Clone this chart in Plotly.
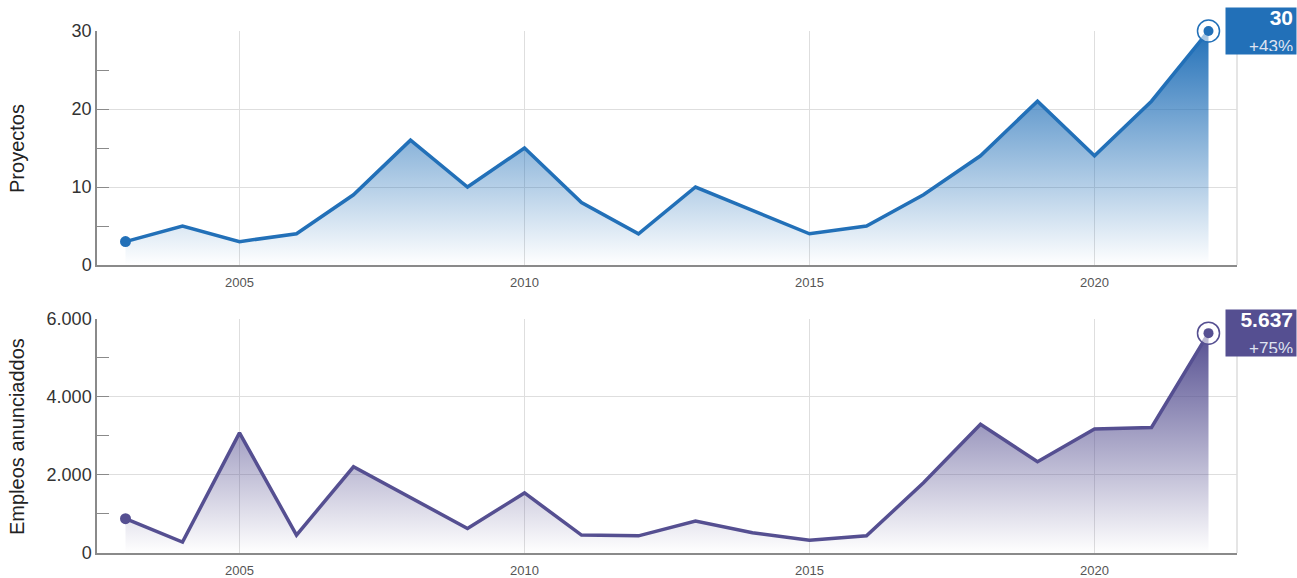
import plotly.graph_objects as go
from plotly.subplots import make_subplots

years = list(range(2003, 2023))
proyectos = [3, 5, 3, 4, 9, 16, 10, 15, 8, 4, 10, 7, 4, 5, 9, 14, 21, 14, 21, 30]
empleos = [880, 280, 3080, 460, 2210, 1430, 630, 1540, 460, 440, 820, 520, 330, 440,
           1800, 3300, 2340, 3180, 3220, 5637]
x_ticks = [2005, 2010, 2015, 2020]
top_label = ["30", "+43%"]
bottom_label = ["5.637", "+75%"]

BLUE = "#2270b8"
PURPLE = "#554f91"
FONT = "Liberation Sans, Arial, sans-serif"

fig = make_subplots(rows=2, cols=1, vertical_spacing=0.1034)


def rgba(hexc, a):
    h = hexc.lstrip("#")
    r, g, b = int(h[0:2], 16), int(h[2:4], 16), int(h[4:6], 16)
    return f"rgba({r},{g},{b},{a})"


for row, vals, col in [(1, proyectos, BLUE), (2, empleos, PURPLE)]:
    fig.add_trace(go.Scatter(
        x=years, y=vals, mode="lines", line=dict(color=col, width=3.5),
        fill="tozeroy",
        fillgradient=dict(type="vertical", start=0, stop=max(vals),
                          colorscale=[[0, rgba(col, 0.0)], [1, rgba(col, 1.0)]]),
        hoverinfo="skip", showlegend=False, cliponaxis=False,
    ), row=row, col=1)
    fig.add_trace(go.Scatter(
        x=[years[0]], y=[vals[0]], mode="markers",
        marker=dict(color=col, size=11), showlegend=False, cliponaxis=False,
    ), row=row, col=1)
    fig.add_trace(go.Scatter(
        x=[years[-1]], y=[vals[-1]], mode="markers",
        marker=dict(color="rgba(255,255,255,0.6)", size=22, line=dict(color=col, width=1.5)),
        showlegend=False, cliponaxis=False,
    ), row=row, col=1)
    fig.add_trace(go.Scatter(
        x=[years[-1]], y=[vals[-1]], mode="markers",
        marker=dict(color=col, size=10), showlegend=False, cliponaxis=False,
    ), row=row, col=1)

axis_common = dict(
    showline=True, linecolor="#8a8a8a", linewidth=1.5,
    gridcolor="#dedede", gridwidth=1,
    zeroline=False, automargin=False,
)
for row in (1, 2):
    fig.update_xaxes(range=[2002.5, 2022.5], tickvals=x_ticks, ticks="",
                     ticklabelstandoff=5,
                     tickfont=dict(size=13, color="#555", family=FONT),
                     showgrid=True, **axis_common, row=row, col=1)

fig.update_yaxes(range=[0, 30], tickvals=[0, 10, 20, 30], ticks="inside", ticklen=12,
                 tickcolor="#8a8a8a", tickwidth=1.2,
                 minor=dict(tickvals=[5, 15, 25], ticks="inside", ticklen=12,
                            tickcolor="#8a8a8a", showgrid=False),
                 tickfont=dict(size=18, color="#333", family=FONT),
                 **axis_common, row=1, col=1)
fig.update_yaxes(range=[0, 6000], tickvals=[0, 2000, 4000, 6000], tickformat=",d",
                 ticks="inside", ticklen=12, tickcolor="#8a8a8a", tickwidth=1.2,
                 minor=dict(tickvals=[1000, 3000, 5000], ticks="inside", ticklen=12,
                            tickcolor="#8a8a8a", showgrid=False),
                 tickfont=dict(size=18, color="#333", family=FONT),
                 **axis_common, row=2, col=1)

for yr, txt in [("y domain", "Proyectos"), ("y2 domain", "Empleos anunciaddos")]:
    fig.add_annotation(xref="paper", yref=yr, x=-0.0702, y=0.5, xanchor="center",
                       yanchor="middle", text=txt, textangle=-90, showarrow=False,
                       font=dict(size=20, color="#222", family=FONT))

for xref, yref in [("x domain", "y domain"), ("x2 domain", "y2 domain")]:
    fig.add_shape(type="line", xref=xref, yref=yref, x0=1, x1=1, y0=0, y1=1,
                  line=dict(color="#dcdcdc", width=1.5), layer="below")

for xr, yr, val, lab, col in [("x domain", "y", proyectos[-1], top_label, BLUE),
                              ("x2 domain", "y2", empleos[-1], bottom_label, PURPLE)]:
    fig.add_annotation(
        xref=xr, yref=yr, x=1, y=val, xanchor="left", yanchor="middle", xshift=-12,
        text=f"<b>{lab[0]}</b><br><span style='font-size:17px;color:#dfe3f0'>{lab[1]}</span>",
        font=dict(size=21, color="white", family=FONT), align="right",
        bgcolor=col, width=64, height=40, borderpad=3, showarrow=False,
    )

fig.update_layout(
    width=1297, height=578,
    margin=dict(l=97, r=60, t=31, b=25, autoexpand=False),
    plot_bgcolor="white", paper_bgcolor="white",
    separators=",.",
    font=dict(family=FONT, color="#333"),
)

fig.write_html("out.html", config={"displayModeBar": False},
               post_script="document.body.style.margin='0';")
